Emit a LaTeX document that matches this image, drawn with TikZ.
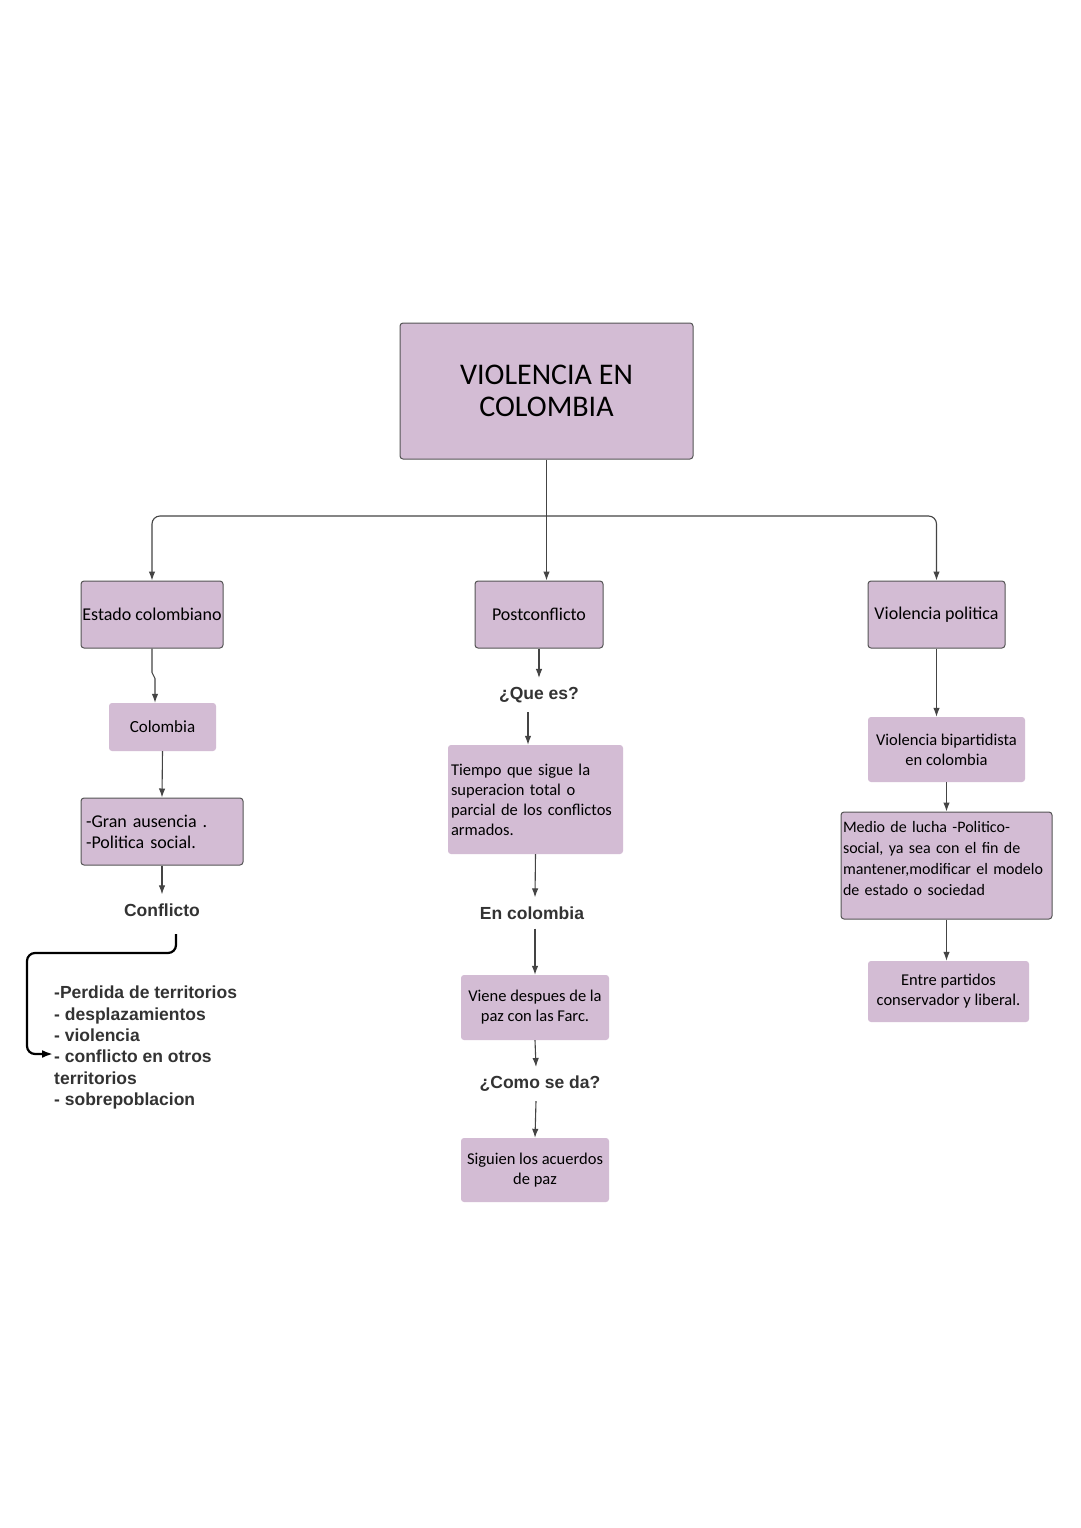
\documentclass[tikz,border=0pt]{standalone}
\usepackage{fontspec}
\setmainfont{Carlito}
\newfontfamily\lblfont{Liberation Sans}
\usetikzlibrary{arrows.meta}
\definecolor{boxfill}{HTML}{D3BCD4}
\definecolor{boxline}{HTML}{555555}
\definecolor{lblgray}{HTML}{333333}
\definecolor{lineg}{HTML}{444444}

\begin{document}
\begin{tikzpicture}[x=1pt, y=-1pt,
    box/.style={fill=boxfill, draw=boxline, line width=1pt, rounded corners=3pt, inner sep=0pt},
    softbox/.style={fill=boxfill, rounded corners=3pt, inner sep=0pt},
    lbl/.style={font=\lblfont\bfseries\fontsize{17.5}{21.3}\selectfont, text=lblgray, inner xsep=0pt, inner ysep=9pt},
    conn/.style={draw=lineg, line width=1.1pt, -{Latex[length=9pt,width=6.5pt]}},
    bigarrow/.style={draw=black, line width=2.2pt, rounded corners=8pt, -{Latex[length=11pt,width=8pt]}}]
    \fill[white] (0,0) rectangle (1080,1528);
    \path[use as bounding box] (0,0) rectangle (1080,1528);

    % top
    \node[box, minimum width=293pt, minimum height=136pt, align=center, font=\fontsize{30}{32}\selectfont] (main) at (546.5,391) {VIOLENCIA EN\\COLOMBIA};

    \node[box, minimum width=142pt, minimum height=67pt, font=\fontsize{18}{21}\selectfont] (estado) at (152,614.5) {Estado colombiano};
    \node[box, minimum width=128pt, minimum height=67pt, font=\fontsize{18}{21}\selectfont] (postc) at (539,614.5) {Postconflicto};
    \node[box, minimum width=137pt, minimum height=67pt, font=\fontsize{18}{21}\selectfont] (vpol) at (936.5,614.5) {Violencia politica};

    % left column
    \node[softbox, minimum width=107pt, minimum height=48pt, font=\fontsize{17}{20}\selectfont] (colom) at (162.5,727) {Colombia};
    \node[box, minimum width=162pt, minimum height=67pt, text width=152pt, align=left, font=\fontsize{18}{21}\selectfont] (gran) at (162,831.5) {-Gran ausencia .\\-Politica social.};
    \node[lbl] (conf) at (162,910) {Conflicto};
    \node[lbl, anchor=north west, inner ysep=0pt, align=left] (lista) at (54,986) {-Perdida de territorios\\- desplazamientos\\- violencia\\- conflicto en otros\\territorios\\- sobrepoblacion};

    % middle column
    \node[lbl] (quees) at (539,695) {¿Que es?};
    \node[softbox, minimum width=175pt, minimum height=109pt, text width=169pt, align=left, font=\fontsize{16.5}{20}\selectfont] (tiempo) at (535.5,799.5) {Tiempo que sigue la\\superacion total o\\parcial de los conflictos\\armados.};
    \node[lbl] (encol) at (532,913) {En colombia};
    \node[softbox, minimum width=148pt, minimum height=65pt, align=center, font=\fontsize{16.5}{20}\selectfont] (viene) at (535,1007.5) {Viene despues de la\\paz con las Farc.};
    \node[lbl] (como) at (540,1084) {¿Como se da?};
    \node[softbox, minimum width=148pt, minimum height=64pt, align=center, font=\fontsize{16.5}{20}\selectfont] (siguen) at (535,1170) {Siguien los acuerdos\\de paz};

    % right column
    \node[softbox, minimum width=157pt, minimum height=65pt, align=center, font=\fontsize{16.5}{20}\selectfont] (vbip) at (946.5,749.5) {Violencia bipartidista\\en colombia};
    \node[box, minimum width=211pt, minimum height=107pt, text width=207pt, align=left, font=\fontsize{16}{21}\selectfont] (medio) at (946.5,865.5) {Medio de lucha -Politico-\\social, ya sea con el fin de\\mantener,modificar el modelo\\de estado o sociedad\rule[-15pt]{0pt}{15pt}};
    \node[softbox, minimum width=161pt, minimum height=61pt, align=center, font=\fontsize{16.5}{20}\selectfont] (entre) at (948.5,991.5) {Entre partidos\\conservador y liberal.};

    % connectors
    \coordinate (split) at (546.5,516);
    \draw[conn] (main.south) -- (main.south |- postc.north);
    \draw[conn, rounded corners=8pt] (split) -| (estado.north);
    \draw[conn, rounded corners=8pt] (split) -| (vpol.north);

    \draw[conn] (estado.south) -- ++(0,24) -- ++(3,6) -- ([xshift=-7.5pt]colom.north);
    \draw[conn] (colom.south) -- (gran.north);
    \draw[conn] (gran.south) -- (conf.north);
    \coordinate (cstart) at (176,934);
    \coordinate (cend) at (53,1054);
    \draw[bigarrow] (cstart) -- (176,953) -- (27,953) -- (27,1054) -- (cend);

    \draw[conn] (postc.south) -- (quees.north);
    \draw[conn] ([xshift=-11pt]quees.south) -- ([xshift=-7.5pt]tiempo.north);
    \draw[conn] (tiempo.south) -- ([xshift=3pt]encol.north);
    \draw[conn] ([xshift=3pt]encol.south) -- (viene.north);
    \draw[conn] (viene.south) -- ([xshift=-4pt]como.north);
    \draw[conn] ([xshift=-4pt]como.south) -- (siguen.north);

    \draw[conn] (vpol.south) -- ([xshift=-10pt]vbip.north);
    \draw[conn] (vbip.south) -- (medio.north);
    \draw[conn] (medio.south) -- ([xshift=-2pt]entre.north);
\end{tikzpicture}
\end{document}
